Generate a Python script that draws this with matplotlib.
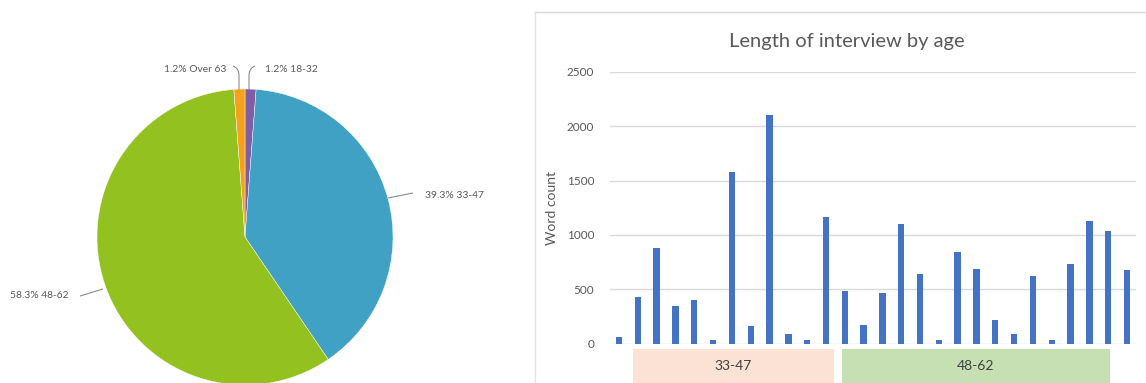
import matplotlib
matplotlib.use("Agg")
import matplotlib.pyplot as plt
from matplotlib.patches import Rectangle, PathPatch
from matplotlib.path import Path
import numpy as np

# Share of interviews per age group
age_groups = ["18-32", "33-47", "48-62", "Over 63"]
age_share = [1.2, 39.3, 58.3, 1.2]
pie_colors = ["#7F5FA3", "#41A1C5", "#93C11F", "#F6A11C"]

# Word count of each interview, ordered by age
word_counts = [58, 432, 882, 346, 401, 28, 1581, 162, 2102, 86, 28, 1167,
               484, 172, 469, 1097, 643, 28, 839, 683, 218, 92, 622, 28,
               729, 1127, 1036, 677]
y_ticks = [0, 500, 1000, 1500, 2000, 2500]

# Age-group bands under the bar chart
band_labels = ["33-47", "48-62"]
band_colors = ["#FBE2D5", "#C6E0B4"]

W, H = 1146, 383
fig = plt.figure(figsize=(W / 100, H / 100), dpi=100)
fig.patch.set_facecolor("white")
plt.rcParams["font.family"] = ["Lato", "DejaVu Sans"]
txt = "#595959"


def fbox(x0, y0, x1, y1):
    """Pixel box (top-left origin) -> figure fraction rect."""
    return [x0 / W, (H - y1) / H, (x1 - x0) / W, (y1 - y0) / H]


# ---- pie chart ----
cx, cy, r = 245, 237, 148
pax = fig.add_axes(fbox(cx - r, cy - r, cx + r, cy + r))
wedges, _ = pax.pie(age_share, colors=pie_colors, startangle=90,
                    counterclock=False, radius=1,
                    wedgeprops=dict(linewidth=0.3, edgecolor="white"))
pax.set_xlim(-1, 1)
pax.set_ylim(-1, 1)
pax.axis("off")
for w in wedges:
    w.set_clip_on(False)


def to_data(px, py):
    return ((px - cx) / r, (cy - py) / r)


pie_labels = [f"{v:.1f}% {g}" for v, g in zip(age_share, age_groups)]
# label anchor (pixels), alignment, leader-line points (pixels)
label_specs = {
    "18-32": ((265, 69), "left",
              [(249, 90), (249, 76), (249, 68), (255, 66)]),
    "33-47": ((425, 195), "left",
              [(388, 198), (413, 193)]),
    "48-62": ((69, 296), "right",
              [(103, 289), (80, 296)]),
    "Over 63": ((226, 69), "right",
                [(239, 90), (239, 76), (239, 68), (233, 66)]),
}
for g, lab in zip(age_groups, pie_labels):
    (tx, ty), ha, pts = label_specs[g]
    verts = [to_data(*p) for p in pts]
    if len(verts) == 4:
        codes = [Path.MOVETO, Path.LINETO, Path.CURVE3, Path.CURVE3]
    else:
        codes = [Path.MOVETO, Path.LINETO]
    pax.add_patch(PathPatch(Path(verts, codes), facecolor="none",
                            edgecolor="#8C8C8C", lw=0.8, clip_on=False))
    pax.text(*to_data(tx, ty), lab, ha=ha, va="center", fontsize=7.4,
             color=txt, clip_on=False)

# ---- bar chart ----
x = np.arange(len(word_counts))
step = (1127 - 619) / (len(word_counts) - 1)
left_px = 619 - step / 2
right_px = 1127 + step / 2
bax = fig.add_axes(fbox(left_px, 72, right_px, 343.5))
bax.bar(x, word_counts, width=0.34, color="#4472C4", zorder=3)
bax.set_xlim(-0.5, len(word_counts) - 0.5)
bax.set_ylim(0, 2500)
bax.set_yticks(y_ticks)
bax.set_yticklabels([str(t) for t in y_ticks], fontsize=8.5, color=txt)
bax.tick_params(axis="y", length=0, pad=11)
bax.set_xticks([])
bax.grid(axis="y", color="#D9D9D9", lw=1, zorder=0)
for s in bax.spines.values():
    s.set_visible(False)
bax.set_ylabel("Word count", fontsize=10, color=txt)
bax.yaxis.set_label_coords((558 - left_px) / (right_px - left_px), 0.5)
fig.text(847 / W, (H - 41) / H, "Length of interview by age",
         fontsize=14.5, color=txt, ha="center", va="center")

# group bands below the axis
band_spans = [(0.72, 11.44), (11.85, 26.1)]
trans = bax.get_xaxis_transform()
y_top = (343.5 - 349) / (343.5 - 72)
y_bot = (343.5 - 386) / (343.5 - 72)
for (a, b), lab, col in zip(band_spans, band_labels, band_colors):
    bax.add_patch(Rectangle((a, y_bot), b - a, y_top - y_bot, transform=trans,
                            facecolor=col, edgecolor="none", clip_on=False))
    bax.text((a + b) / 2, (343.5 - 366) / (343.5 - 72), lab, transform=trans,
             ha="center", va="center", fontsize=10, color="#404040")

# panel frame around the bar chart
fig.add_artist(plt.Line2D([535 / W, 1], [(H - 11.5) / H] * 2,
                          color="#D9D9D9", lw=1))
fig.add_artist(plt.Line2D([535 / W] * 2, [0, (H - 11.5) / H],
                          color="#E3E3E3", lw=1))

fig.savefig("out.png", dpi=100, facecolor="white")
